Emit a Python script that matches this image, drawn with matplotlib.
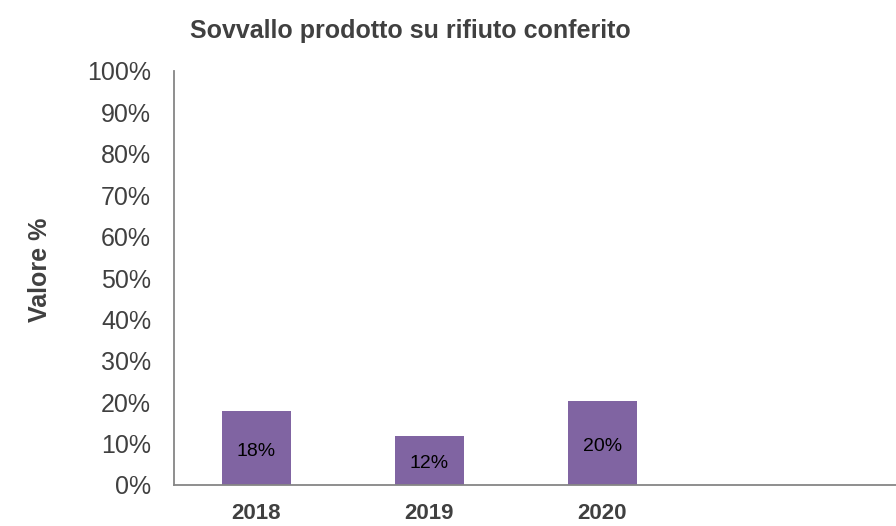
import matplotlib.pyplot as plt
from matplotlib.ticker import MultipleLocator, PercentFormatter

years = ['2018', '2019', '2020']
values = [0.178, 0.119, 0.204]
labels = ['18%', '12%', '20%']

bar_color = '#8064A2'
axis_color = '#868686'
text_color = '#404040'

fig = plt.figure(figsize=(8.96, 5.26), dpi=100)
ax = fig.add_axes([174 / 896, 1 - 485 / 526, 1 - 174 / 896, (485 - 71) / 526])

x = range(len(years))
bars = ax.bar(x, values, width=0.4, color=bar_color, zorder=2)
for b, lab in zip(bars, labels):
    ax.text(b.get_x() + b.get_width() / 2, b.get_height() / 2 - 0.008, lab,
            ha='center', va='center', fontsize=14, color='black',
            family='Liberation Sans')

ax.set_xlim(-0.477, 3.7)
ax.set_ylim(0, 1)
ax.yaxis.set_major_locator(MultipleLocator(0.1))
ax.yaxis.set_major_formatter(PercentFormatter(1.0, decimals=0))
ax.set_xticks(list(x))
ax.set_xticklabels(years, fontsize=16, fontweight='bold', color=text_color,
                   family='Liberation Sans')
ax.tick_params(axis='y', length=0, pad=16.5, labelsize=18, labelcolor=text_color)
ax.tick_params(axis='x', length=0, pad=13)
for lab in ax.get_yticklabels():
    lab.set_family('Liberation Sans')

for s in ['top', 'right']:
    ax.spines[s].set_visible(False)
for s in ['left', 'bottom']:
    ax.spines[s].set_color(axis_color)
    ax.spines[s].set_linewidth(1.3)

fig.text(40 / 896, 1 - 270 / 526, 'Valore %', rotation=90, ha='center', va='center',
         fontsize=18, fontweight='bold', color=text_color, family='Liberation Sans')
fig.text(410 / 896, 1 - 31 / 526, 'Sovvallo prodotto su rifiuto conferito',
         ha='center', va='center', fontsize=18, fontweight='bold',
         color=text_color, family='Liberation Sans')

fig.savefig('out.png', dpi=100)
